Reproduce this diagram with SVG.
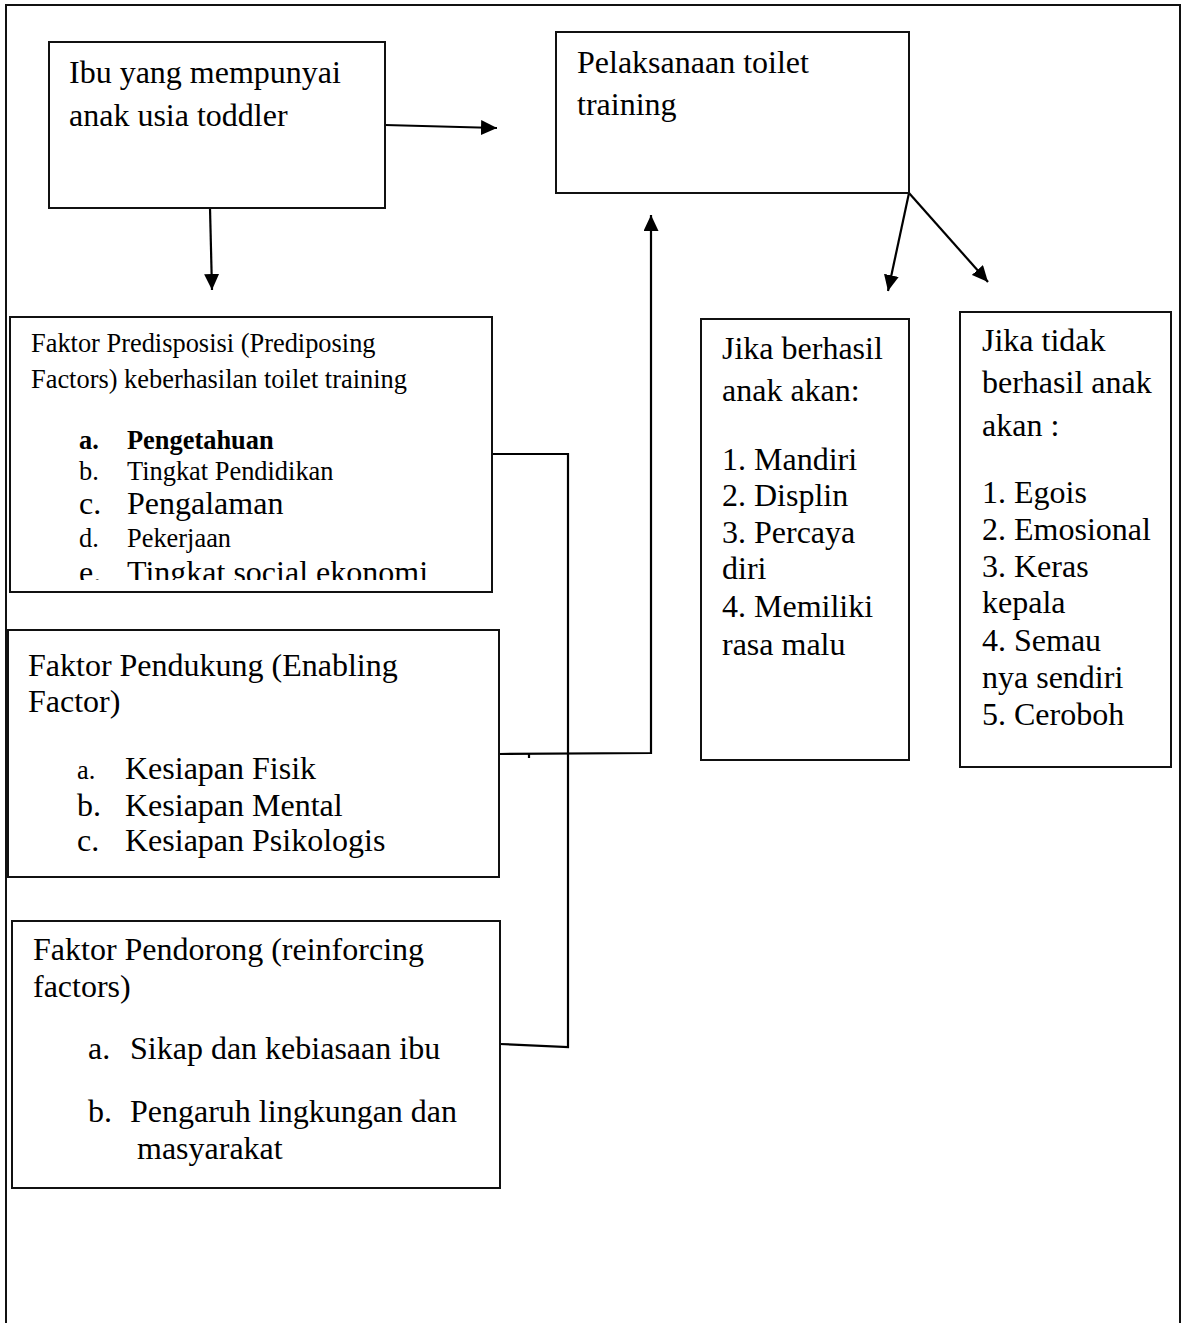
<svg xmlns="http://www.w3.org/2000/svg" width="1187" height="1323" viewBox="0 0 1187 1323">
<style>
  .box { fill: #fff; stroke: #111; stroke-width: 2; }
  .t { font-family: "Liberation Serif", "Times New Roman", serif; fill: #000; }
  .L { font-size: 32px; }
  .S { font-size: 26.4px; }
  .B { font-weight: bold; }
  .conn { fill: none; stroke: #000; stroke-width: 2.2; }
</style>
<defs>
  <marker id="arr" markerUnits="userSpaceOnUse" markerWidth="17" markerHeight="15" refX="16" refY="7.5" orient="auto">
    <path d="M0,0 L16,7.5 L0,15 z" fill="#000"/>
  </marker>
  <clipPath id="clipE">
    <rect x="60" y="540" width="430" height="40"/>
  </clipPath>
</defs>
<rect width="1187" height="1323" fill="#fff"/>
<path d="M6,1330 V5 H1180 V1330" fill="none" stroke="#111" stroke-width="2"/>

<g id="connectors">
  <line class="conn" x1="385" y1="125" x2="497" y2="128" marker-end="url(#arr)"/>
  <line class="conn" x1="210" y1="208" x2="212" y2="290" marker-end="url(#arr)"/>
  <line class="conn" x1="909" y1="193" x2="888" y2="291" marker-end="url(#arr)"/>
  <line class="conn" x1="909" y1="193" x2="988" y2="282" marker-end="url(#arr)"/>
  <path class="conn" d="M499,754 L651,753 L651,215" marker-end="url(#arr)"/>
  <line class="conn" x1="529" y1="753" x2="529" y2="758"/>
  <path class="conn" d="M459,454 L568,454 L568,1047 L500,1044"/>
</g>

<g id="node-ibu">
  <rect class="box" x="49" y="42" width="336" height="166"/>
  <text class="t L" x="69" y="83">Ibu yang mempunyai</text>
  <text class="t L" x="69" y="126">anak usia toddler</text>
</g>

<g id="node-pelaksanaan">
  <rect class="box" x="556" y="32" width="353" height="161"/>
  <text class="t L" x="577" y="73">Pelaksanaan toilet</text>
  <text class="t L" x="577" y="115">training</text>
</g>

<g id="node-predisposisi">
  <rect class="box" x="10" y="317" width="482" height="275"/>
  <text class="t S" x="31" y="352">Faktor Predisposisi (Prediposing</text>
  <text class="t S" x="31" y="388">Factors) keberhasilan toilet training</text>
  <text class="t S B" x="79" y="449">a.</text>
  <text class="t S B" x="127" y="449">Pengetahuan</text>
  <text class="t S" x="79" y="480">b.</text>
  <text class="t S" x="127" y="480">Tingkat Pendidikan</text>
  <text class="t L" x="79" y="514">c.</text>
  <text class="t L" x="127" y="514">Pengalaman</text>
  <text class="t S" x="79" y="547">d.</text>
  <text class="t S" x="127" y="547">Pekerjaan</text>
  <g clip-path="url(#clipE)">
    <text class="t L" x="79" y="583">e.</text>
    <text class="t L" x="127" y="583">Tingkat social ekonomi</text>
  </g>
</g>

<g id="node-pendukung">
  <rect class="box" x="8" y="630" width="491" height="247"/>
  <text class="t L" x="28" y="676">Faktor Pendukung (Enabling</text>
  <text class="t L" x="28" y="712">Factor)</text>
  <text class="t S" x="77" y="779">a.</text>
  <text class="t L" x="125" y="779">Kesiapan Fisik</text>
  <text class="t L" x="77" y="816">b.</text>
  <text class="t L" x="125" y="816">Kesiapan Mental</text>
  <text class="t L" x="77" y="851">c.</text>
  <text class="t L" x="125" y="851">Kesiapan Psikologis</text>
</g>

<g id="node-pendorong">
  <rect class="box" x="12" y="921" width="488" height="267"/>
  <text class="t L" x="33" y="960">Faktor Pendorong (reinforcing</text>
  <text class="t L" x="33" y="997">factors)</text>
  <text class="t L" x="88" y="1059">a.</text>
  <text class="t L" x="130" y="1059">Sikap dan kebiasaan ibu</text>
  <text class="t L" x="88" y="1122">b.</text>
  <text class="t L" x="130" y="1122">Pengaruh lingkungan dan</text>
  <text class="t L" x="137" y="1159">masyarakat</text>
</g>

<g id="node-berhasil">
  <rect class="box" x="701" y="319" width="208" height="441"/>
  <text class="t L" x="722" y="359">Jika berhasil</text>
  <text class="t L" x="722" y="401">anak akan:</text>
  <text class="t L" x="722" y="470">1. Mandiri</text>
  <text class="t L" x="722" y="506">2. Displin</text>
  <text class="t L" x="722" y="543">3. Percaya</text>
  <text class="t L" x="722" y="579">diri</text>
  <text class="t L" x="722" y="617">4. Memiliki</text>
  <text class="t L" x="722" y="655">rasa malu</text>
</g>

<g id="node-tidak-berhasil">
  <rect class="box" x="960" y="312" width="211" height="455"/>
  <text class="t L" x="982" y="351">Jika tidak</text>
  <text class="t L" x="982" y="393">berhasil anak</text>
  <text class="t L" x="982" y="436">akan :</text>
  <text class="t L" x="982" y="503">1. Egois</text>
  <text class="t L" x="982" y="540">2. Emosional</text>
  <text class="t L" x="982" y="577">3. Keras</text>
  <text class="t L" x="982" y="613">kepala</text>
  <text class="t L" x="982" y="651">4. Semau</text>
  <text class="t L" x="982" y="688">nya sendiri</text>
  <text class="t L" x="982" y="725">5. Ceroboh</text>
</g>
</svg>
